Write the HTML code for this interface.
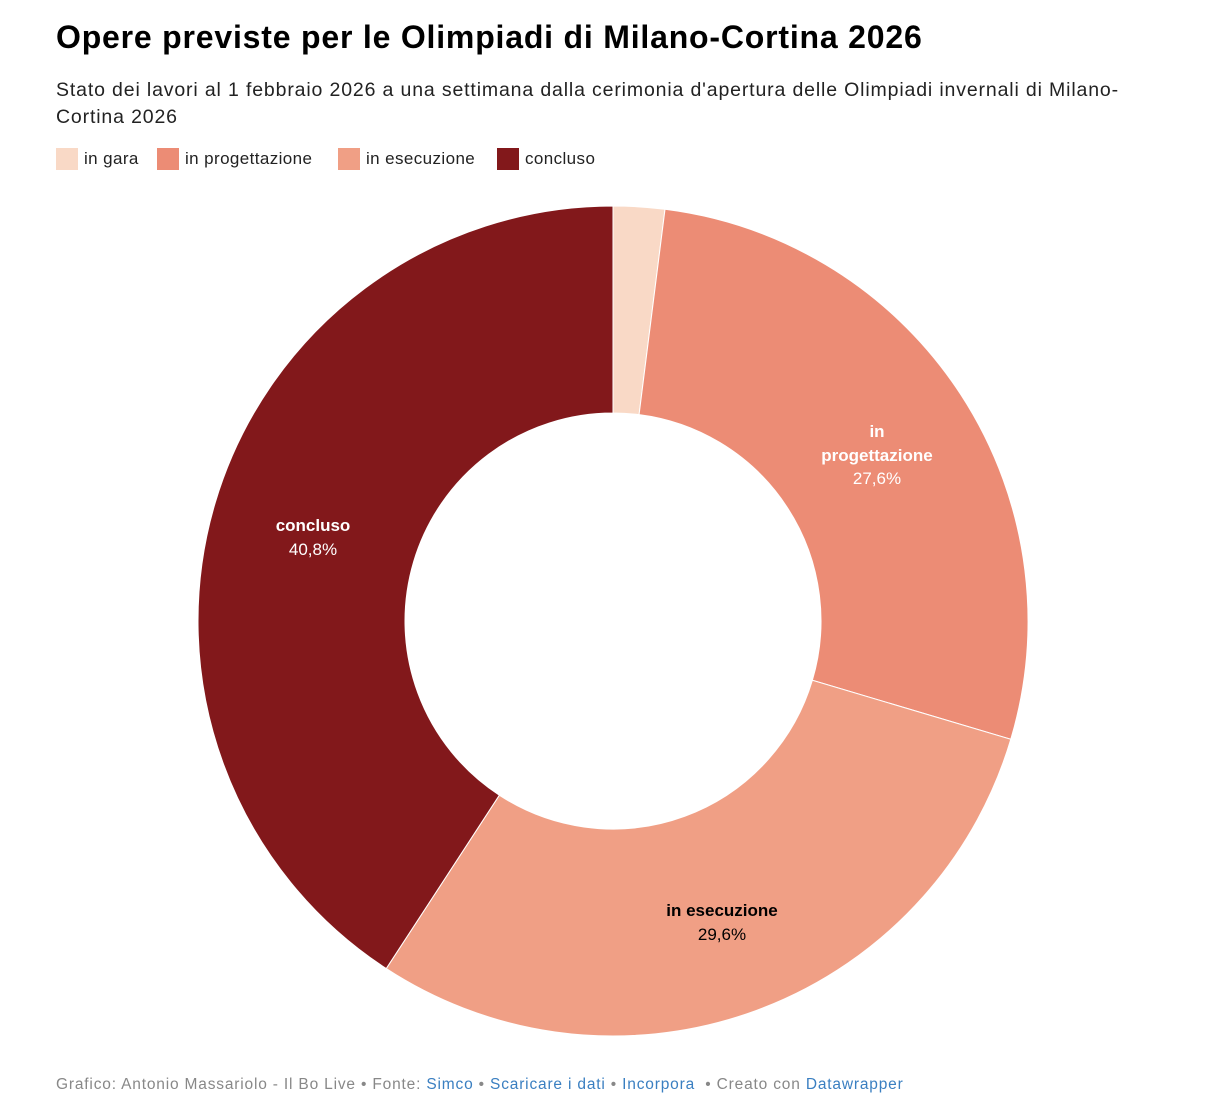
<!DOCTYPE html>
<html><head><meta charset="utf-8"><style>
body{margin:0;width:1226px;height:1118px;background:#fff;font-family:"Liberation Sans",Arial,sans-serif;position:relative;overflow:hidden}
.t{position:absolute;left:56px;top:19px;font-size:32px;font-weight:bold;color:#000;letter-spacing:0.8px}
.s{position:absolute;left:56px;top:77px;font-size:19.5px;line-height:27px;color:#222;width:1112px;letter-spacing:0.85px}
.lg{position:absolute;top:148px;font-size:17px;color:#222;display:flex;align-items:center;letter-spacing:0.4px}
.lg i{display:inline-block;width:22px;height:22px;margin-right:6px}
.f{position:absolute;left:56px;top:1076px;font-size:15.5px;color:#888;letter-spacing:0.82px}
.f a{color:#3a7fc1;text-decoration:none}
svg{position:absolute;left:0;top:0}
</style></head><body>
<div class="t">Opere previste per le Olimpiadi di Milano-Cortina 2026</div>
<div class="s">Stato dei lavori al 1 febbraio 2026 a una settimana dalla cerimonia d'apertura delle Olimpiadi invernali di Milano-<br>Cortina 2026</div>
<div class="lg" style="left:56px"><i style="background:#f9d9c6"></i>in gara</div>
<div class="lg" style="left:157px"><i style="background:#ec8c75"></i>in progettazione</div>
<div class="lg" style="left:338px"><i style="background:#f09f85"></i>in esecuzione</div>
<div class="lg" style="left:497px"><i style="background:#82181b"></i>concluso</div>
<svg id="c" width="1226" height="1118"></svg>
<div class="f">Grafico: Antonio Massariolo - Il Bo Live • Fonte: <a>Simco</a> • <a>Scaricare i dati</a> • <a>Incorpora</a> &nbsp;• Creato con <a>Datawrapper</a></div>
<script>
var cx=613,cy=621,R=415,r=208,d=[[2.0,"#f9d9c6"],[27.6,"#ec8c75"],[29.6,"#f09f85"],[40.8,"#82181b"]],a=0,h="";
function p(rad,ang){var t=ang/100*2*Math.PI;return [cx+rad*Math.sin(t),cy-rad*Math.cos(t)];}
d.forEach(function(s){var b=a+s[0],l=s[0]>50?1:0,A=p(R,a),B=p(R,b),C=p(r,b),D=p(r,a);
h+='<path d="M'+A+'A'+R+','+R+' 0 '+l+' 1 '+B+'L'+C+'A'+r+','+r+' 0 '+l+' 0 '+D+'Z" fill="'+s[1]+'" stroke="#fff" stroke-width="1"/>';a=b;});
h+='<g font-family="Liberation Sans,Arial,sans-serif" font-size="17" text-anchor="middle">';
h+='<text x="877" y="437" fill="#fff" font-weight="bold">in</text><text x="877" y="461" fill="#fff" font-weight="bold">progettazione</text><text x="877" y="484" fill="#fff">27,6%</text>';
h+='<text x="722" y="916" fill="#000" font-weight="bold">in esecuzione</text><text x="722" y="940" fill="#000">29,6%</text>';
h+='<text x="313" y="531" fill="#fff" font-weight="bold">concluso</text><text x="313" y="555" fill="#fff">40,8%</text></g>';
document.getElementById("c").innerHTML=h;
</script>
</body></html>
